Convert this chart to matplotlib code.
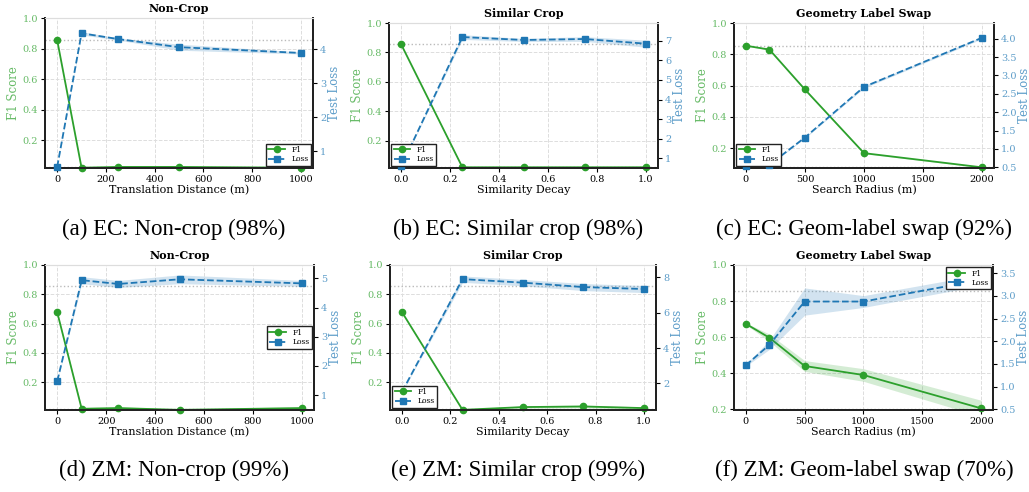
import numpy as np
import matplotlib
matplotlib.use("Agg")
import matplotlib.pyplot as plt
from matplotlib.colors import to_rgba

# -------------------------------
# Data
# -------------------------------
titles = ["Non-Crop", "Similar Crop", "Geometry Label Swap",
          "Non-Crop", "Similar Crop", "Geometry Label Swap"]
xlabels = ["Translation Distance (m)", "Similarity Decay", "Search Radius (m)",
           "Translation Distance (m)", "Similarity Decay", "Search Radius (m)"]
captions = ["(a) EC: Non-crop (98%)", "(b) EC: Similar crop (98%)",
            "(c) EC: Geom-label swap (92%)", "(d) ZM: Non-crop (99%)",
            "(e) ZM: Similar crop (99%)", "(f) ZM: Geom-label swap (70%)"]

x_dist = [0, 100, 250, 500, 1000]
x_decay = [0.0, 0.25, 0.5, 0.75, 1.0]
x_radius = [0, 200, 500, 1000, 2000]

# EC
f1_a = [0.855, 0.02, 0.025, 0.025, 0.02]
f1_a_std = [0.003, 0.002, 0.003, 0.003, 0.002]
loss_a = [0.53, 4.47, 4.30, 4.06, 3.89]
loss_a_std = [0.01, 0.05, 0.03, 0.09, 0.03]

f1_b = [0.854, 0.02, 0.02, 0.02, 0.02]
f1_b_std = [0.003, 0.002, 0.002, 0.002, 0.002]
loss_b = [0.575, 7.20, 7.05, 7.10, 6.86]
loss_b_std = [0.02, 0.12, 0.08, 0.12, 0.18]

f1_c = [0.855, 0.83, 0.575, 0.168, 0.077]
f1_c_std = [0.003, 0.004, 0.005, 0.004, 0.003]
loss_c = [0.53, 0.57, 1.31, 2.69, 4.03]
loss_c_std = [0.01, 0.01, 0.02, 0.03, 0.03]

# ZM
f1_d = [0.677, 0.018, 0.023, 0.011, 0.023]
f1_d_std = [0.003, 0.01, 0.01, 0.004, 0.01]
loss_d = [1.48, 4.94, 4.81, 4.97, 4.83]
loss_d_std = [0.03, 0.12, 0.12, 0.15, 0.10]

f1_e = [0.677, 0.011, 0.030, 0.034, 0.023]
f1_e_std = [0.003, 0.004, 0.008, 0.01, 0.008]
loss_e = [1.53, 7.90, 7.70, 7.45, 7.34]
loss_e_std = [0.03, 0.18, 0.18, 0.20, 0.20]

f1_f = [0.674, 0.597, 0.44, 0.39, 0.205]
f1_f_std = [0.005, 0.02, 0.03, 0.035, 0.045]
loss_f = [1.47, 1.92, 2.875, 2.875, 3.35]
loss_f_std = [0.02, 0.10, 0.30, 0.13, 0.12]

xs = [x_dist, x_decay, x_radius, x_dist, x_decay, x_radius]
f1s = [f1_a, f1_b, f1_c, f1_d, f1_e, f1_f]
f1_stds = [f1_a_std, f1_b_std, f1_c_std, f1_d_std, f1_e_std, f1_f_std]
losses = [loss_a, loss_b, loss_c, loss_d, loss_e, loss_f]
loss_stds = [loss_a_std, loss_b_std, loss_c_std, loss_d_std, loss_e_std, loss_f_std]

f1_ylims = [(0.018, 1.0), (0.015, 1.0), (0.073, 1.0),
            (0.01, 1.0), (0.01, 1.0), (0.196, 1.0)]
loss_ylims = [(0.50, 4.92), (0.49, 7.92), (0.48, 4.43),
              (0.49, 5.46), (0.49, 8.70), (0.485, 3.68)]
loss_ticks = [[1, 2, 3, 4], [1, 2, 3, 4, 5, 6, 7],
              [0.5, 1.0, 1.5, 2.0, 2.5, 3.0, 3.5, 4.0],
              [1, 2, 3, 4, 5], [2, 4, 6, 8],
              [0.5, 1.0, 1.5, 2.0, 2.5, 3.0, 3.5]]
legend_locs = ["lower right", "lower left", "lower left",
               "center right", "lower left", "upper right"]

# panel boxes in pixels: left, right, top, bottom
boxes = [(45, 313, 18, 168), (389, 658, 23, 168), (734, 994, 23, 168),
         (45, 314, 265, 410), (390, 656, 265, 410), (734, 993, 265, 410)]
caption_pos = [(174, 229), (518, 229), (864, 229),
               (174, 470), (518, 470), (864, 470)]

# -------------------------------
# Plot
# -------------------------------
W, H = 1029, 492
plt.rcParams["font.family"] = "DejaVu Serif"
fig = plt.figure(figsize=(W / 100, H / 100), dpi=100)

green = "#2ca02c"
blue = "#1f77b4"
green_txt = to_rgba(green, 0.72)
blue_txt = to_rgba(blue, 0.72)

for i in range(6):
    l, r, t, b = boxes[i]
    ax = fig.add_axes([l / W, 1 - b / H, (r - l) / W, (b - t) / H])
    ax2 = ax.twinx()
    x = np.array(xs[i])
    f1 = np.array(f1s[i])
    fs = np.array(f1_stds[i])
    lo = np.array(losses[i])
    ls = np.array(loss_stds[i])

    ax.grid(True, linestyle="--", color="#dddddd", linewidth=0.7)
    ax.set_axisbelow(True)
    ax.axhline(0.855, color="#bbbbbb", linestyle=":", linewidth=1.0, zorder=1)
    ax.axhline(f1_ylims[i][0] + 0.004, color="#bbbbbb", linestyle=":",
               linewidth=1.0, zorder=1)

    ax.fill_between(x, f1 - fs, f1 + fs, color=green, alpha=0.2, linewidth=0)
    h1, = ax.plot(x, f1, color=green, marker="o", markersize=4.5,
                  linewidth=1.3, label="F1", clip_on=False, zorder=3)
    ax2.fill_between(x, lo - ls, lo + ls, color=blue, alpha=0.2, linewidth=0)
    h2, = ax2.plot(x, lo, color=blue, marker="s", markersize=4.5,
                   linewidth=1.3, linestyle="--", label="Loss",
                   clip_on=False, zorder=3)

    ax.set_ylim(*f1_ylims[i])
    ax2.set_ylim(*loss_ylims[i])
    ax.set_yticks([0.2, 0.4, 0.6, 0.8, 1.0])
    ax2.set_yticks(loss_ticks[i])
    ax.set_title(titles[i], fontsize=8, fontweight="bold", pad=4)
    ax.set_xlabel(xlabels[i], fontsize=8, labelpad=1)
    ax.set_ylabel("F1 Score", fontsize=8.5, color=green_txt, labelpad=2)
    ax2.set_ylabel("Test Loss", fontsize=8.5, color=blue_txt, labelpad=1)
    ax.tick_params(axis="x", labelsize=7, length=3, pad=2)
    ax.tick_params(axis="y", labelsize=7, labelcolor=green_txt, length=3, pad=2)
    ax2.tick_params(axis="y", labelsize=7, labelcolor=blue_txt, length=3, pad=2)

    for a in (ax, ax2):
        for side in ("left", "right", "bottom"):
            a.spines[side].set_color("#222222")
            a.spines[side].set_linewidth(1.4)
        a.spines["top"].set_color("#dddddd")
        a.spines["top"].set_linewidth(0.8)

    leg = ax2.legend([h1, h2], ["F1", "Loss"], loc=legend_locs[i],
                     fontsize=5.5, fancybox=False, framealpha=1.0,
                     edgecolor="#222222", borderpad=0.3, labelspacing=0.2,
                     handlelength=2.2, borderaxespad=0.3)
    leg.get_frame().set_linewidth(1.0)

    cx, cy = caption_pos[i]
    fig.text(cx / W, 1 - cy / H, captions[i], ha="center", va="center",
             fontsize=16.5, family="Liberation Serif")

fig.savefig("out.png", dpi=100)
